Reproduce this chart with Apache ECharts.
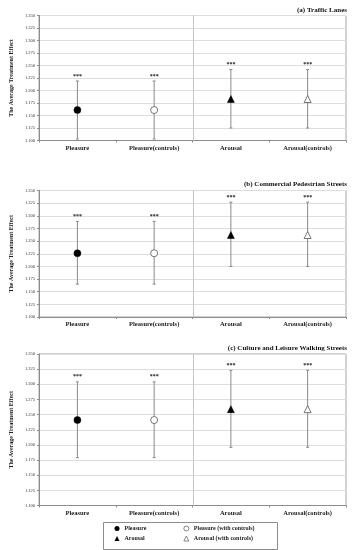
<!DOCTYPE html>
<html>
<head>
<meta charset="utf-8">
<script src="https://cdn.jsdelivr.net/npm/echarts@6/dist/echarts.min.js"></script>
<style>html,body{margin:0;padding:0;background:#fff}#c{width:354px;height:550px}</style>
</head>
<body>
<div id="c"></div>
<script>
// ---- data ----
const categories = ['Pleasure', 'Pleasure(controls)', 'Arousal', 'Arousal(controls)'];
const panelTitles = ['(a) Traffic Lanes', '(b) Commercial Pedestrian Streets', '(c) Culture and Leisure Walking Streets'];
const seriesNames = ['Pleasure', 'Pleasure (with controls)', 'Arousal', 'Arousal (with controls)'];
const yTicks = [1.100, 1.125, 1.150, 1.175, 1.200, 1.225, 1.250, 1.275, 1.300, 1.325, 1.350];

const meanA = [1.161, 1.161, 1.183, 1.183];
const lowerA = [1.103, 1.103, 1.125, 1.125];
const upperA = [1.219, 1.219, 1.242, 1.242];

const meanB = [1.226, 1.226, 1.262, 1.262];
const lowerB = [1.165, 1.165, 1.200, 1.200];
const upperB = [1.289, 1.289, 1.327, 1.327];

const meanC = [1.241, 1.241, 1.259, 1.259];
const lowerC = [1.179, 1.179, 1.196, 1.196];
const upperC = [1.304, 1.304, 1.323, 1.323];

const sig = ['***', '***', '***', '***'];

// ---- build ----
const panels = [
  {mean: meanA, lower: lowerA, upper: upperA},
  {mean: meanB, lower: lowerB, upper: upperB},
  {mean: meanC, lower: lowerC, upper: upperC}
];
const layout = [
  {top: 15.5, height: 125, titleTop: 6.5},
  {top: 190.5, height: 126.5, titleTop: 180.5},
  {top: 354, height: 151.5, titleTop: 344.5}
];
const serif = '"Liberation Serif", "DejaVu Serif", serif';
const symbols = [
  {symbol: 'circle', fill: '#000', size: 7},
  {symbol: 'circle', fill: '#fff', size: 7},
  {symbol: 'triangle', fill: '#000', size: 7},
  {symbol: 'triangle', fill: '#fff', size: 7}
];

const grids = [], xAxes = [], yAxes = [], titles = [], series = [];
panels.forEach((p, gi) => {
  const L = layout[gi];
  grids.push({left: 30, right: 8, top: L.top, height: L.height, show: true,
    borderColor: '#a6a6a6', borderWidth: 1, backgroundColor: 'transparent'});
  titles.push({text: panelTitles[gi], right: 7, top: L.titleTop, padding: 0,
    textStyle: {fontFamily: serif, fontSize: 7, fontWeight: 'bold', color: '#111'}});
  xAxes.push({type: 'category', gridIndex: gi, data: categories, boundaryGap: true,
    axisLine: {lineStyle: {color: '#8c8c8c'}},
    axisTick: {show: true, length: 2, lineStyle: {color: '#8c8c8c'}},
    axisLabel: {fontFamily: serif, fontSize: 6.5, fontWeight: 'bold', color: '#222', margin: 4},
    splitLine: {show: false}
  });
  yAxes.push({type: 'value', gridIndex: gi, min: yTicks[0], max: yTicks[yTicks.length - 1],
    interval: 0.025,
    name: 'The Average Treatment Effect', nameLocation: 'middle', nameRotate: 90, nameGap: 24,
    nameTextStyle: {fontFamily: serif, fontSize: 6, fontWeight: 'bold', color: '#222'},
    axisLine: {show: true, lineStyle: {color: '#8c8c8c'}},
    axisTick: {show: true, length: 2, lineStyle: {color: '#8c8c8c'}},
    axisLabel: {fontFamily: serif, fontSize: 4.5, color: '#333', margin: 4,
      formatter: v => v.toFixed(3)},
    splitLine: {show: true, lineStyle: {color: '#dedede', width: 1}}
  });
  // error bars with stars, plus the divider between Pleasure and Arousal groups
  series.push({
    type: 'custom', xAxisIndex: gi, yAxisIndex: gi, silent: true, z: 2,
    data: categories.map((c, i) => [i, p.lower[i], p.upper[i]]),
    renderItem: (params, api) => {
      const lo = api.coord([api.value(0), api.value(1)]);
      const hi = api.coord([api.value(0), api.value(2)]);
      const cap = 1.5;
      const st = {stroke: '#8a8a8a', lineWidth: 1};
      const children = [
        {type: 'line', shape: {x1: lo[0], y1: lo[1], x2: hi[0], y2: hi[1]}, style: st},
        {type: 'line', shape: {x1: lo[0] - cap, y1: lo[1], x2: lo[0] + cap, y2: lo[1]}, style: st},
        {type: 'line', shape: {x1: hi[0] - cap, y1: hi[1], x2: hi[0] + cap, y2: hi[1]}, style: st},
        {type: 'text', style: {text: sig[params.dataIndex], x: hi[0], y: hi[1] - 5,
          align: 'center', verticalAlign: 'middle', fill: '#222',
          font: 'bold 6px ' + serif}}
      ];
      if (params.dataIndex === 2) {
        const prev = api.coord([1, api.value(1)]);
        const xm = Math.round((prev[0] + lo[0]) / 2) + 0.5;
        const cs = params.coordSys;
        children.push({type: 'line', shape: {x1: xm, y1: cs.y, x2: xm, y2: cs.y + cs.height},
          style: {stroke: '#c4c4c4', lineWidth: 1}});
      }
      return {type: 'group', children: children};
    }
  });
  // markers: one series per category/legend entry
  seriesNames.forEach((nm, si) => {
    const s = symbols[si];
    series.push({
      type: 'scatter', name: nm, xAxisIndex: gi, yAxisIndex: gi, z: 5,
      symbol: s.symbol, symbolSize: s.size,
      itemStyle: {color: s.fill, borderColor: s.fill === '#fff' ? '#555' : '#000', borderWidth: s.fill === '#fff' ? 0.8 : 0.5, opacity: 1},
      data: [[si, p.mean[si]]]
    });
  });
});

const legendText = {fontFamily: serif, fontSize: 6, fontWeight: 'bold', color: '#222'};
const legendPos = [[114.5, 525.5], [183.5, 525.5], [114.5, 535.5], [183.5, 535.5]];
const legends = seriesNames.map((nm, i) => ({
  data: [{name: nm, icon: symbols[i].symbol,
    itemStyle: {borderWidth: symbols[i].fill === '#fff' ? 0.7 : 0}}],
  left: legendPos[i][0], top: legendPos[i][1], padding: 0,
  itemWidth: 5, itemHeight: 5, itemGap: 0,
  textStyle: legendText, selectedMode: false
}));

const option = {
  animation: false,
  title: titles,
  grid: grids,
  xAxis: xAxes,
  yAxis: yAxes,
  series: series,
  legend: legends,
  graphic: [{type: 'rect', left: 101, top: 520, shape: {width: 174, height: 27},
    style: {fill: 'none', stroke: '#8c8c8c', lineWidth: 1}, silent: true}]
};
const chart = echarts.init(document.getElementById('c'), null, {renderer: 'canvas'});
chart.setOption(option);
</script>
</body>
</html>
